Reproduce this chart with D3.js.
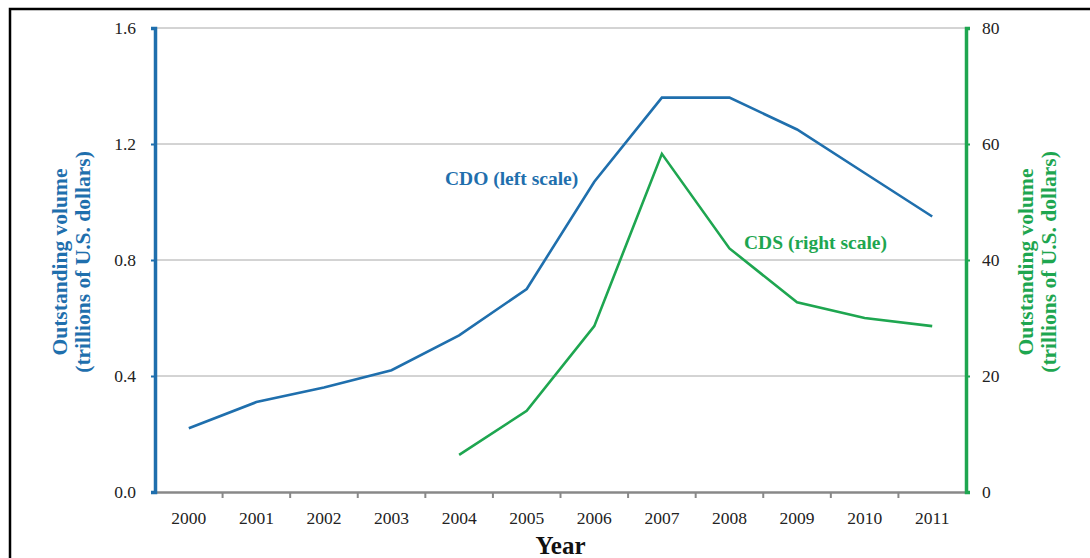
<!DOCTYPE html>
<html>
<head>
<meta charset="utf-8">
<script src="https://cdn.jsdelivr.net/npm/d3@7"></script>
<style>
  body { margin: 0; background: #fff; }
  text { font-family: "Liberation Serif", "Times New Roman", serif; }
</style>
</head>
<body>
<svg id="chart" width="1090" height="558"></svg>
<script>
// years on the x axis
var years = ["2000", "2001", "2002", "2003", "2004", "2005", "2006", "2007", "2008", "2009", "2010", "2011"];
// CDO outstanding volume, trillions USD (left scale)
var cdoValues = [0.22, 0.31, 0.36, 0.42, 0.54, 0.70, 1.07, 1.36, 1.36, 1.25, 1.10, 0.95];
// CDS outstanding volume, trillions USD (right scale), starts in 2004
var cdsYears = ["2004", "2005", "2006", "2007", "2008", "2009", "2010", "2011"];
var cdsValues = [6.4, 14.0, 28.6, 58.3, 42.0, 32.7, 30.0, 28.6];
var leftTicks = [0, 0.4, 0.8, 1.2, 1.6];
var rightTicks = [0, 20, 40, 60, 80];

var blue = "#1f6fad", green = "#1ea650";

var svg = d3.select("#chart");
var plotLeft = 155, plotRight = 966, plotTop = 28, plotBottom = 492;

// frame
svg.append("path")
    .attr("d", "M10,558 L10,9 L1090,9")
    .attr("fill", "none").attr("stroke", "#000").attr("stroke-width", 2.5);

var x = d3.scaleBand().domain(years).range([plotLeft, plotRight]);
var yL = d3.scaleLinear().domain([0, 1.6]).range([plotBottom, plotTop]);
var yR = d3.scaleLinear().domain([0, 80]).range([plotBottom, plotTop]);

// grid
svg.append("g").selectAll("line")
    .data(leftTicks.slice(1))
    .join("line")
    .attr("x1", plotLeft).attr("x2", plotRight)
    .attr("y1", d => yL(d)).attr("y2", d => yL(d))
    .attr("stroke", "#a8a8a8").attr("stroke-width", 1);

// x axis
var xAxis = svg.append("g")
    .attr("transform", "translate(0," + plotBottom + ")")
    .call(d3.axisBottom(x).tickSize(0).tickPadding(20));
xAxis.select(".domain").attr("stroke", "#888").attr("stroke-width", 2.5);
xAxis.selectAll("text").attr("font-size", 17.5).attr("fill", "#222");
svg.append("g").selectAll("line")
    .data(years.slice(1))
    .join("line")
    .attr("x1", d => x(d)).attr("x2", d => x(d))
    .attr("y1", plotBottom).attr("y2", plotBottom + 6)
    .attr("stroke", "#888").attr("stroke-width", 2);

// left axis
var lAxis = svg.append("g")
    .attr("transform", "translate(" + plotLeft + ",0)")
    .call(d3.axisLeft(yL).tickValues(leftTicks).tickFormat(d3.format(".1f")).tickSize(4).tickPadding(15));
lAxis.select(".domain").attr("stroke", blue).attr("stroke-width", 3.5);
lAxis.selectAll(".tick line").attr("stroke", blue).attr("stroke-width", 2);
lAxis.selectAll("text").attr("font-size", 17.5).attr("fill", "#222");

// right axis
var rAxis = svg.append("g")
    .attr("transform", "translate(" + plotRight + ",0)")
    .call(d3.axisRight(yR).tickValues(rightTicks).tickSize(4).tickPadding(12));
rAxis.select(".domain").attr("stroke", green).attr("stroke-width", 3.5);
rAxis.selectAll(".tick line").attr("stroke", green).attr("stroke-width", 2);
rAxis.selectAll("text").attr("font-size", 17.5).attr("fill", "#222");

// lines
var cx = d => x(d) + x.bandwidth() / 2;
svg.append("path")
    .datum(years.map((y, i) => [y, cdoValues[i]]))
    .attr("fill", "none").attr("stroke", blue).attr("stroke-width", 2.6)
    .attr("d", d3.line().x(d => cx(d[0])).y(d => yL(d[1])));
svg.append("path")
    .datum(cdsYears.map((y, i) => [y, cdsValues[i]]))
    .attr("fill", "none").attr("stroke", green).attr("stroke-width", 2.6)
    .attr("d", d3.line().x(d => cx(d[0])).y(d => yR(d[1])));

// series labels
svg.append("text").attr("x", 445).attr("y", 185)
    .attr("font-size", 19.5).attr("font-weight", "bold").attr("fill", blue)
    .text("CDO (left scale)");
svg.append("text").attr("x", 744).attr("y", 249)
    .attr("font-size", 19.5).attr("font-weight", "bold").attr("fill", green)
    .text("CDS (right scale)");

// axis titles
function yTitle(tx, color) {
    var t = svg.append("text")
        .attr("transform", "translate(" + tx + ",262) rotate(-90)")
        .attr("text-anchor", "middle")
        .attr("font-size", 21.5).attr("font-weight", "bold").attr("fill", color);
    t.append("tspan").attr("x", 0).attr("dy", -4).text("Outstanding volume");
    t.append("tspan").attr("x", 0).attr("dy", 23).text("(trillions of U.S. dollars)");
}
yTitle(71, blue);
yTitle(1037, green);

svg.append("text").attr("x", (plotLeft + plotRight) / 2).attr("y", 554)
    .attr("text-anchor", "middle")
    .attr("font-size", 25).attr("font-weight", "bold").attr("fill", "#111")
    .text("Year");
</script>
</body>
</html>
